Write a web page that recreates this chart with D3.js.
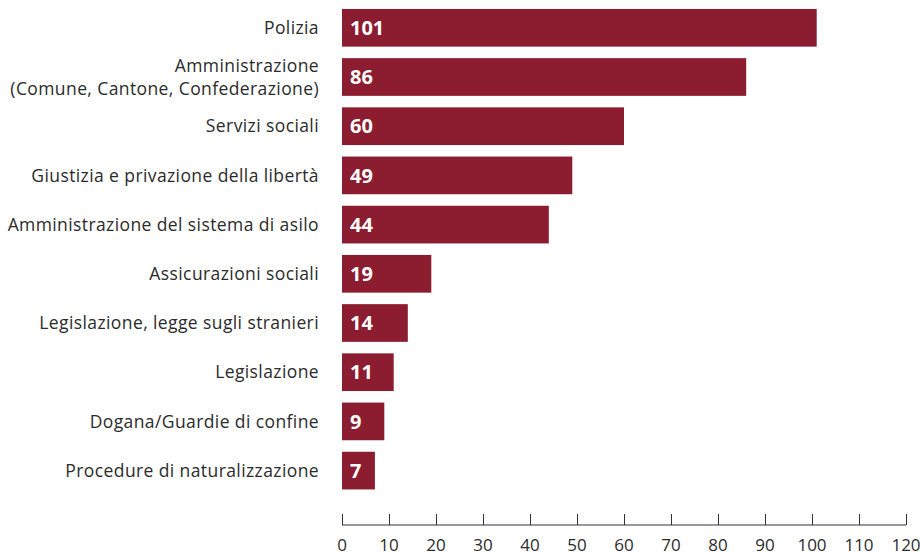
<!DOCTYPE html>
<html><head><meta charset="utf-8">
<script src="https://cdn.jsdelivr.net/npm/d3@7"></script>
<style>body{margin:0;background:#fff}svg text{font-family:"Open Sans",sans-serif}</style>
</head><body><svg id="c" width="920" height="553"></svg>
<script>
const categories = ["Polizia","Amministrazione\n(Comune, Cantone, Confederazione)","Servizi sociali","Giustizia e privazione della libertà","Amministrazione del sistema di asilo","Assicurazioni sociali","Legislazione, legge sugli stranieri","Legislazione","Dogana/Guardie di confine","Procedure di naturalizzazione"];
const values = [101,86,60,49,44,19,14,11,9,7];
const ticks = [0,10,20,30,40,50,60,70,80,90,100,110,120];

const svg = d3.select("#c");
const x = d3.scaleLinear().domain([0,120]).range([342,906]);
const y = d3.scaleBand().domain(categories).range([3.2,495.2]).paddingInner(0.234).paddingOuter(0.117);
const color = "#8c1c2f";

svg.selectAll("rect.bar").data(values).join("rect").attr("class","bar")
  .attr("x", x(0)).attr("y",(d,i)=>y(categories[i]))
  .attr("width", d=>x(d)-x(0)).attr("height", y.bandwidth()).attr("fill", color);

svg.selectAll("text.val").data(values).join("text").attr("class","val")
  .attr("x", x(0)+8).attr("y",(d,i)=>y(categories[i])+y.bandwidth()/2)
  .attr("dy","0.36em").attr("fill","#fff").attr("font-weight","700").attr("font-size","20px")
  .text(d=>d);

const lab = svg.selectAll("text.cat").data(categories).join("text").attr("class","cat")
  .attr("text-anchor","end").attr("fill","#2b2b2b").attr("font-size","17.5px").attr("letter-spacing","0.4px")
  .attr("x",319).attr("y",d=>y(d)+y.bandwidth()/2);
lab.each(function(d){
  const lines = d.split("\n");
  const t = d3.select(this);
  lines.forEach((l,k)=>{
    t.append("tspan").attr("x",319).attr("dy", k===0 ? (0.35 - (lines.length-1)*0.65)+"em" : "1.3em").text(l);
  });
});

const ax = svg.append("g").attr("transform","translate(0,525)")
  .call(d3.axisTop(x).tickValues(ticks).tickSize(11).tickFormat(""));
ax.select(".domain").attr("stroke","#333").attr("d",`M${x(0)},0H${x(120)}`);
ax.selectAll(".tick line").attr("stroke","#333");
svg.append("g").selectAll("text").data(ticks).join("text")
  .attr("x",d=>x(d)).attr("y",551).attr("text-anchor","middle")
  .attr("fill","#2b2b2b").attr("font-size","17px").text(d=>d);
</script></body></html>
